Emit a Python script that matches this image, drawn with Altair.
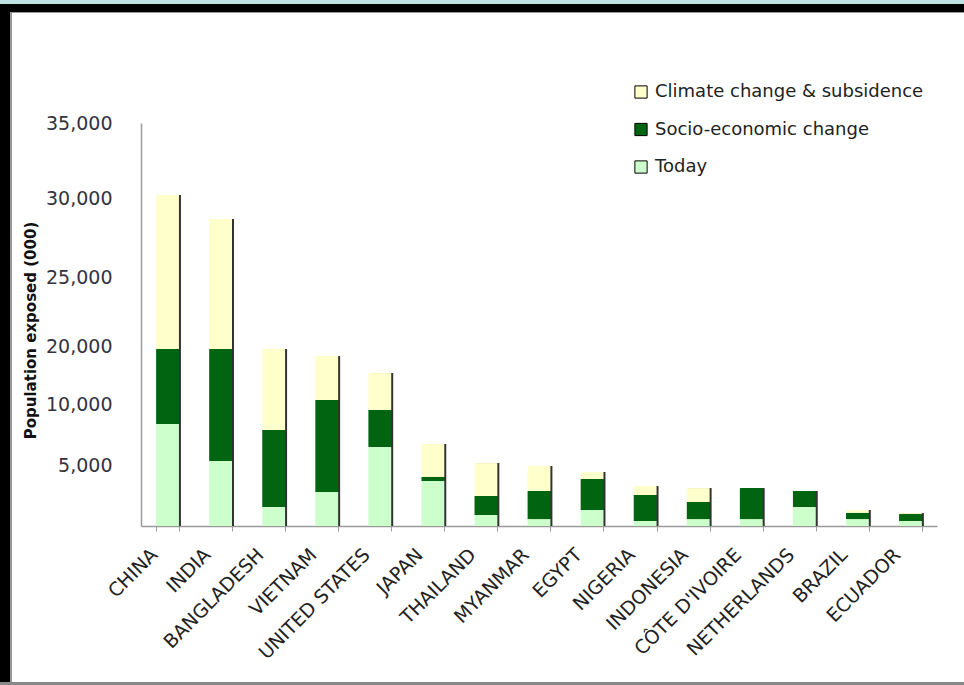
import altair as alt
import pandas as pd

countries = ["CHINA", "INDIA", "BANGLADESH", "VIETNAM", "UNITED STATES", "JAPAN",
             "THAILAND", "MYANMAR", "EGYPT", "NIGERIA", "INDONESIA", "CÔTE D'IVOIRE",
             "NETHERLANDS", "BRAZIL", "ECUADOR"]
today = [8360, 5330, 1560, 2790, 6480, 3690, 900, 570, 1310, 410, 570, 570, 1560, 570, 410]
socio = [11140, 14170, 6310, 7900, 3030, 330, 1560, 2300, 2540, 2130, 1400, 2540, 1310, 500, 570]
climate = [10700, 9170, 11630, 7590, 5830, 2700, 2700, 2050, 580, 740, 1140, 0, 0, 240, 80]

series = ["Climate change & subsidence", "Socio-economic change", "Today"]
colors = ["#FFFFCC", "#006411", "#CCFFCC"]
y_ticks = [5000, 10000, 20000, 25000, 30000, 35000]
y_domain = [0, 5000, 10000, 20000, 25000, 30000, 35000]
y_range = [426, 365, 304, 246, 177, 98, 23]

rows = []
for i, c in enumerate(countries):
    for s, vals, o in ((series[2], today, 0), (series[1], socio, 1), (series[0], climate, 2)):
        rows.append({"country": c, "series": s, "value": vals[i], "order": o})
df = pd.DataFrame(rows)

FONT = "DejaVu Sans"
yscale = alt.Scale(domain=y_domain, range=y_range, nice=False, zero=False)
xscale = alt.Scale(paddingInner=0.57)
xaxis = alt.Axis(title=None, labelAngle=-45, labelFontSize=19, labelFont=FONT,
                 labelColor="#222222", domainColor="#9a9a9a", domainWidth=1.5,
                 tickColor="#9a9a9a", tickSize=5, tickBand="extent", labelPadding=14,
                 labelOffset=-20, labelLimit=0)
yaxis = alt.Axis(title="Population exposed (000)", values=y_ticks, format=",d",
                 labelFontSize=19, labelFont=FONT, labelColor="#333340", ticks=False,
                 labelPadding=29, domainColor="#9a9a9a", domainWidth=1.5, grid=False,
                 titleFont=FONT, titleFontSize=15, titleFontWeight="bold",
                 titleColor="#111111", titleX=-111, titleY=230, titleAngle=270,
                 titleAlign="center", titleBaseline="middle")

one = pd.DataFrame({"d": [0]})


def band(x1, x2, y1, y2, col):
    return alt.Chart(one).mark_rect(color=col).encode(
        x=alt.value(x1), x2=alt.value(x2), y=alt.value(y1), y2=alt.value(y2))


frame = [
    band(-141, 823, -100, -96, "#BFE3E3"),
    band(-141, 823, -96, -88, "#000000"),
    band(-131, 823, -88, -87, "#999999"),
    band(-141, -131, -96, 585, "#000000"),
    band(-131, -129, -87, 585, "#999999"),
    band(-141, 823, 582, 585, "#888888"),
]

shadow = alt.Chart(df).mark_bar(color="#333333", xOffset=2).encode(
    x=alt.X("country:N", sort=countries, axis=xaxis, scale=xscale),
    y=alt.Y("sum(value):Q", scale=yscale, axis=yaxis),
)

bars = alt.Chart(df).mark_bar().encode(
    x=alt.X("country:N", sort=countries, axis=xaxis, scale=xscale),
    y=alt.Y("value:Q", scale=yscale, axis=yaxis, stack="zero"),
    color=alt.Color("series:N", scale=alt.Scale(domain=series, range=colors),
                    legend=alt.Legend(orient="none", legendX=491, legendY=-17, title=None,
                                      symbolType="square", symbolSize=150,
                                      symbolStrokeColor="#000000", symbolStrokeWidth=1,
                                      labelFontSize=18, labelFont=FONT, labelLimit=0,
                                      labelColor="#222222", rowPadding=19.5, labelOffset=5)),
    order=alt.Order("order:Q", sort="ascending"),
)

chart = alt.layer(*frame, shadow, bars).properties(
    width=796, height=426,
    autosize=alt.AutoSizeParams(type="none"),
    padding={"left": 141, "top": 100, "right": 27, "bottom": 159},
    background="white",
).configure_view(stroke=None)

chart.save("out.html", embed_options={"renderer": "svg", "actions": False})
